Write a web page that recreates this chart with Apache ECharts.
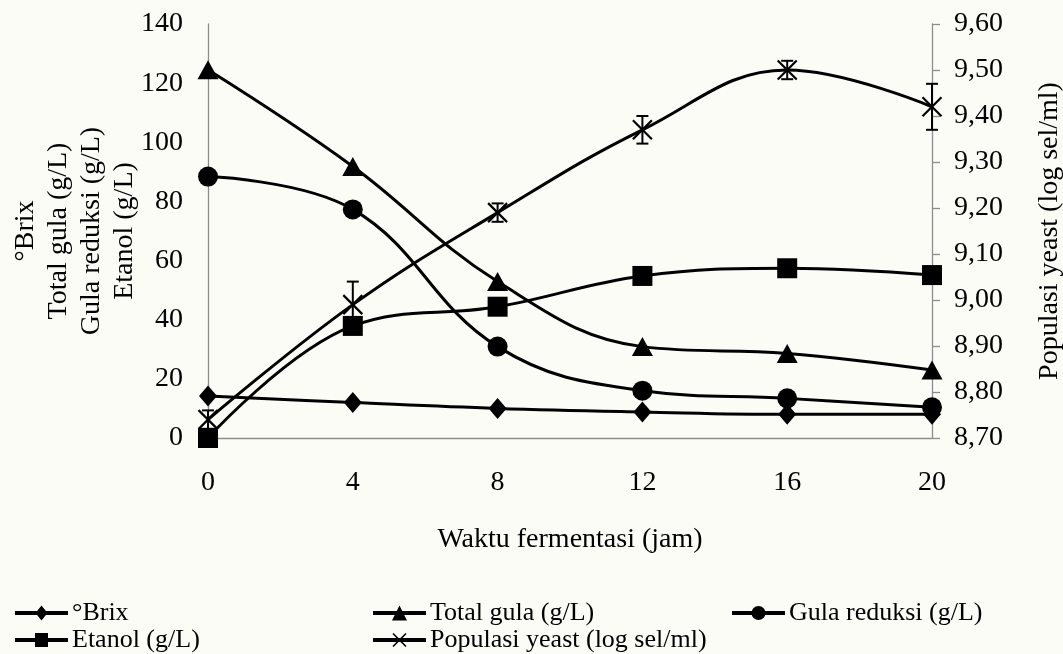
<!DOCTYPE html>
<html>
<head>
<meta charset="utf-8">
<script src="https://cdn.jsdelivr.net/npm/echarts@6/dist/echarts.min.js"></script>
<style>
  html, body { margin: 0; padding: 0; background: #fcfcf7; }
  #chart { width: 1063px; height: 654px; }
</style>
</head>
<body>
<div id="chart"></div>
<script>
// Fermentation time (hours)
const timeJam = [0, 4, 8, 12, 16, 20];
// Left axis series
const brix = [14.2, 12.0, 10.0, 8.8, 8.0, 8.0];
const totalGula = [124.5, 91.8, 52.9, 30.9, 28.6, 23.0];
const gulaReduksi = [88.4, 77.3, 30.9, 16.0, 13.4, 10.4];
const etanol = [0.0, 37.9, 44.4, 54.8, 57.4, 55.1];
// Right axis series (log cells/ml) with its error
const populasiYeast = [8.74, 8.99, 9.19, 9.37, 9.50, 9.42];
const yeastError = [0.02, 0.05, 0.02, 0.03, 0.02, 0.05];

const seriesNames = ['°Brix', 'Total gula (g/L)', 'Gula reduksi (g/L)', 'Etanol (g/L)', 'Populasi yeast (log sel/ml)'];

const FONT = '"Liberation Serif", "Times New Roman", serif';
const pairs = arr => timeJam.map((t, i) => [t, arr[i]]);

// Legend keys: a thick line with the series marker in its middle (all subpaths clockwise)
const BAR = 'M0,6.5H53V10.5H0Z';
const legendIcons = [
  'path://' + BAR + 'M26.5,1L32.5,8.5L26.5,16L20.5,8.5Z',
  'path://' + BAR + 'M26.5,1L34,16L19,16Z',
  'path://' + BAR + 'M19.5,8.5A7,7 0 1 1 33.5,8.5A7,7 0 1 1 19.5,8.5Z',
  'path://' + BAR + 'M20,1.5H33V15.5H20Z',
  'path://' + BAR +
    'M20.57,1.43L33.57,14.43L32.43,15.57L19.43,2.57Z' +
    'M33.57,2.57L20.57,15.57L19.43,14.43L32.43,1.43Z'
];

function lineSeries(name, values, symbol, size, yIndex) {
  return {
    name: name,
    type: 'line',
    yAxisIndex: yIndex,
    data: pairs(values),
    smooth: 0.4,
    symbol: symbol,
    symbolSize: size,
    showAllSymbol: true,
    lineStyle: { color: '#000', width: 3 },
    itemStyle: { color: '#000', borderColor: '#000', borderWidth: symbol.startsWith('path') ? 2.2 : 0 },
    emphasis: { disabled: true },
    animation: false
  };
}

const chart = echarts.init(document.getElementById('chart'), null, { renderer: 'canvas' });

const legendPos = [
  { left: 15, top: 600 },
  { left: 373, top: 600 },
  { left: 732, top: 600 },
  { left: 15, top: 627 },
  { left: 373, top: 627 }
];

chart.setOption({
  backgroundColor: '#fcfcf7',
  animation: false,
  textStyle: { fontFamily: FONT, color: '#000' },
  grid: { left: 208, right: 131, top: 24, bottom: 216, containLabel: false, outerBoundsMode: 'none' },
  legend: seriesNames.map((n, i) => ({
    data: [{ name: n, icon: legendIcons[i] }],
    left: legendPos[i].left,
    top: legendPos[i].top,
    itemWidth: 53,
    itemHeight: 15,
    itemGap: 4,
    padding: 0,
    selectedMode: false,
    itemStyle: { color: '#000', borderWidth: 0 },
    textStyle: { fontFamily: FONT, fontSize: 26, color: '#000', padding: [0, 0, 0, -1] }
  })),
  xAxis: {
    type: 'value',
    min: 0,
    max: 20,
    interval: 4,
    name: 'Waktu fermentasi (jam)',
    nameLocation: 'middle',
    nameGap: 88,
    nameMoveOverlap: false,
    nameTextStyle: { fontFamily: FONT, fontSize: 28, color: '#000' },
    axisLine: { show: true, lineStyle: { color: '#8c8c8c', width: 1.3 } },
    axisTick: { show: false },
    splitLine: { show: false },
    axisLabel: { fontFamily: FONT, fontSize: 28, color: '#000', margin: 31 }
  },
  yAxis: [
    {
      type: 'value',
      min: 0,
      max: 140,
      interval: 20,
      position: 'left',
      name: '°Brix\nTotal gula (g/L)\nGula reduksi (g/L)\nEtanol (g/L)',
      nameLocation: 'middle',
      nameRotate: 90,
      nameGap: 67,
      nameMoveOverlap: false,
      nameTextStyle: { fontFamily: FONT, fontSize: 28, color: '#000', lineHeight: 33, align: 'center' },
      axisLine: { show: true, lineStyle: { color: '#8c8c8c', width: 1.3 } },
      axisTick: { show: false },
      splitLine: { show: false },
      axisLabel: { fontFamily: FONT, fontSize: 28, color: '#000', margin: 25 }
    },
    {
      type: 'value',
      min: 8.7,
      max: 9.6,
      interval: 0.1,
      position: 'right',
      name: 'Populasi yeast (log sel/ml)',
      nameLocation: 'middle',
      nameRotate: 90,
      nameGap: 104,
      nameTextStyle: { fontFamily: FONT, fontSize: 28, color: '#000' },
      axisLine: { show: true, lineStyle: { color: '#8c8c8c', width: 1.3 } },
      axisTick: { show: true, inside: false, length: 8, lineStyle: { color: '#8c8c8c', width: 1.3 } },
      splitLine: { show: false },
      axisLabel: {
        fontFamily: FONT, fontSize: 28, color: '#000', margin: 22,
        formatter: v => v.toFixed(2).replace('.', ',')
      }
    }
  ],
  series: [
    lineSeries(seriesNames[0], brix, 'diamond', [18, 21], 0),
    lineSeries(seriesNames[1], totalGula, 'triangle', [21, 19], 0),
    lineSeries(seriesNames[2], gulaReduksi, 'circle', 20, 0),
    lineSeries(seriesNames[3], etanol, 'rect', 20, 0),
    lineSeries(seriesNames[4], populasiYeast, 'path://M0,0L20,20M20,0L0,20', 19, 1),
    {
      // vertical error bars on the yeast population
      type: 'custom',
      name: 'yeastError',
      yAxisIndex: 1,
      data: timeJam.map((t, i) => [t, populasiYeast[i] - yeastError[i], populasiYeast[i] + yeastError[i]]),
      encode: { x: 0, y: [1, 2] },
      z: 5,
      silent: true,
      renderItem: function (params, api) {
        const x = api.value(0);
        const top = api.coord([x, api.value(2)]);
        const bot = api.coord([x, api.value(1)]);
        const w = 6;
        const st = { stroke: '#000', lineWidth: 2 };
        return {
          type: 'group',
          children: [
            { type: 'line', shape: { x1: top[0], y1: top[1], x2: bot[0], y2: bot[1] }, style: st },
            { type: 'line', shape: { x1: top[0] - w, y1: top[1], x2: top[0] + w, y2: top[1] }, style: st },
            { type: 'line', shape: { x1: bot[0] - w, y1: bot[1], x2: bot[0] + w, y2: bot[1] }, style: st }
          ]
        };
      }
    }
  ]
});
</script>
</body>
</html>
